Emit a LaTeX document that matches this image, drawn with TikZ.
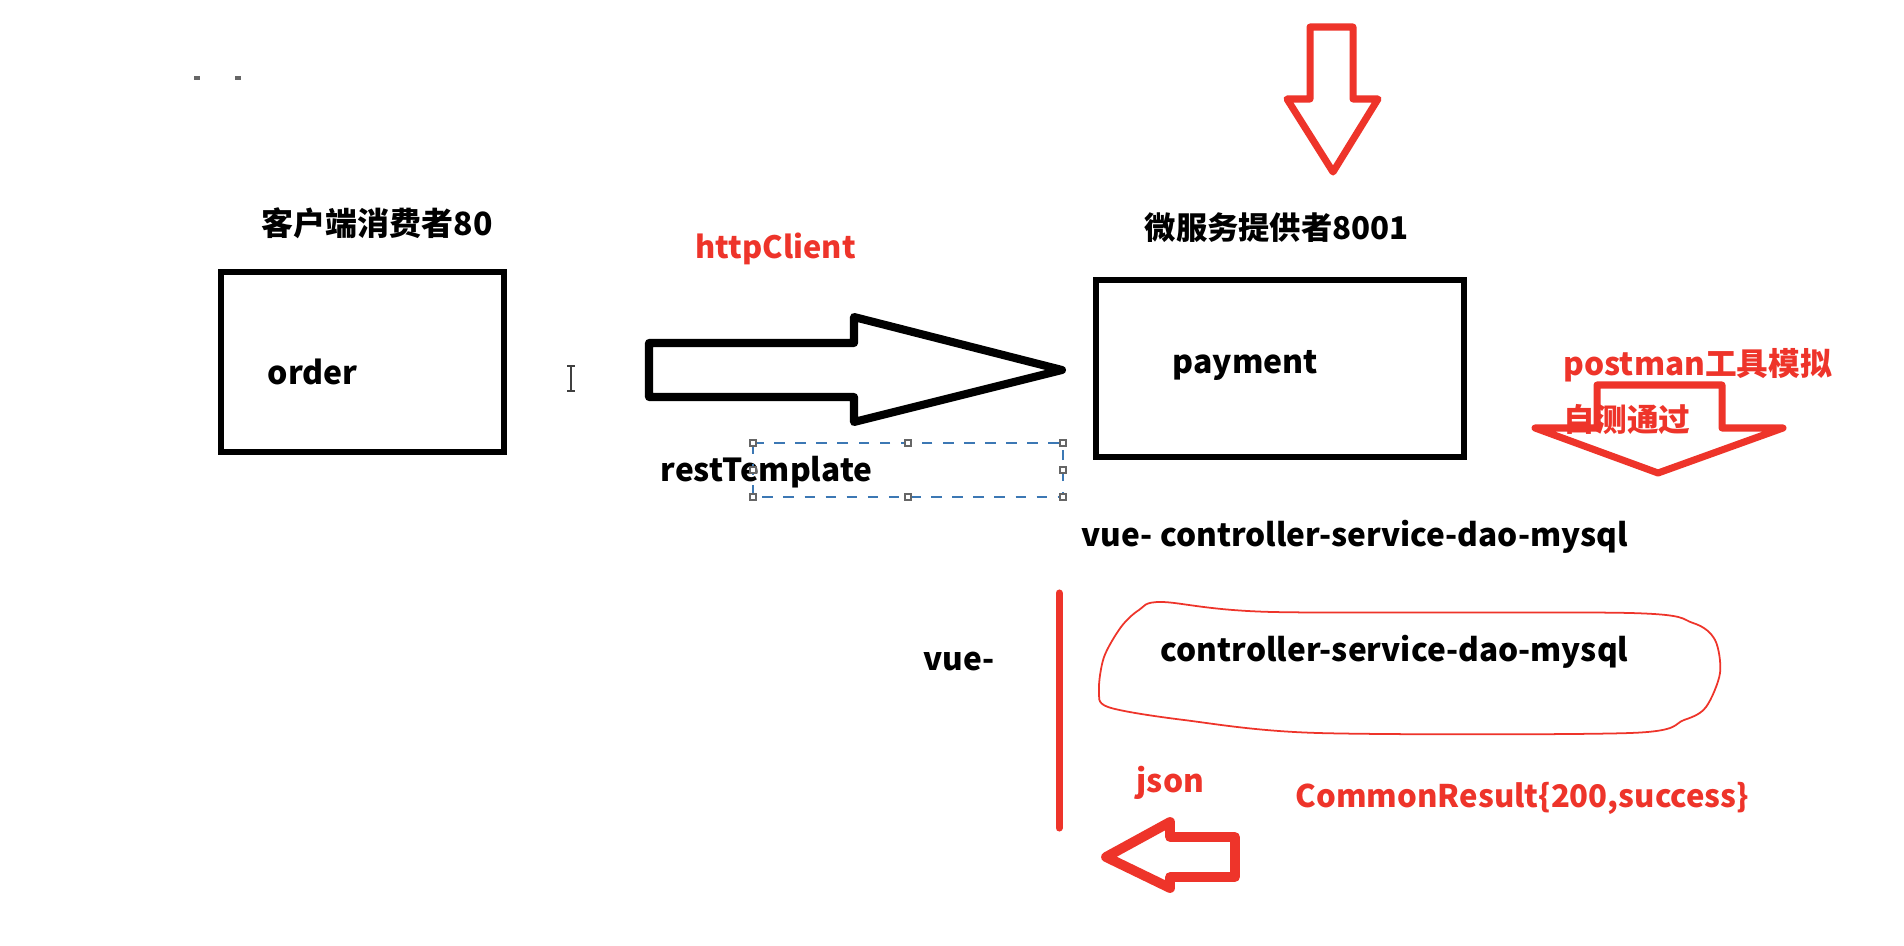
\documentclass[tikz,border=0pt]{standalone}
\usepackage{fontspec}
\setmainfont{Noto Sans CJK SC}
\definecolor{pen}{RGB}{238,52,42}
\definecolor{selblue}{RGB}{60,120,180}
\begin{document}
\begin{tikzpicture}[x=0.01cm,y=-0.01cm,
  lbl/.style={inner sep=0pt,anchor=west,font=\bfseries\fontsize{#1}{#1}\selectfont},
  lbl/.default=9,
  redlbl/.style={lbl=#1,text=pen},
  box/.style={draw=black,line width=1.8pt,inner sep=0pt},
  blockarrow/.style={line width=#1,line join=round},
  handle/.style={draw=gray!80!black,fill=white,line width=0.5pt,minimum size=0.06cm,inner sep=0pt}]
\useasboundingbox[fill=white] (0,0) rectangle (1904,946);

% stray dots top left
\draw[line width=1.2pt,black!60] (194,78) -- (200,78) (235,78) -- (241,78);

% consumer
\node[box,minimum width=2.83cm,minimum height=1.80cm] (orderbox) at (362.5,362) {};
\node[lbl=9.1] (ordertxt) at (267,372) {order};
\node[lbl=9.1] (title1) at (261,223) {客户端消费者80};

% provider
\node[box,minimum width=3.68cm,minimum height=1.77cm] (paybox) at (1280,368.5) {};
\node[lbl=9.1] (paytxt) at (1172,365) {payment};
\node[lbl=8.9] (title2) at (1144,228) {微服务提供者8001};

% top red down arrow
\draw[pen,blockarrow=2pt] (1310,27) -- (1353,27) -- (1353,99) -- (1378,99) -- (1333,172)
  -- (1287,99) -- (1310,99) -- cycle;

% black block arrow
\draw[black,blockarrow=2.3pt] (649,343) -- (854,343) -- (854,317) -- (1062,370)
  -- (854,422) -- (854,397) -- (649,397) -- cycle;
\node[redlbl=8.75] (http) at (695,249) {httpClient};

% text cursor
\draw[black!75,line width=0.6pt] (571,366) -- (571,391) (567,366) -- (575,366) (567,391) -- (575,391);

% restTemplate with selection box
\node[lbl=9] (rest) at (660,472) {restTemplate};
\draw[selblue,dashed,line width=0.6pt] (753,443) rectangle (1063,497);
\foreach \p in {(753,443),(908,443),(1063,443),(753,470),(1063,470),(753,497),(908,497),(1063,497)}
  \node[handle] at \p {};

% chain
\node[lbl=9] (chain) at (1081,537) {vue- controller-service-dao-mysql};
\node[lbl=9] (vue) at (923,661) {vue-};

% red vertical line
\coordinate (ltop) at (1059,593);
\coordinate (lbot) at (1059,828);
\draw[pen,line width=2pt,line cap=round] (ltop) -- (lbot);

% cloud
\draw[pen,line width=0.5pt] plot[smooth cycle,tension=0.5] coordinates {
  (1162,602) (1273,612) (1630,613) (1693,623) (1715,640) (1720,673) (1706,707)
  (1684,720) (1630,733) (1318,733) (1184,720) (1108,707) (1099,690) (1104,657)
  (1121,627) (1139,610)};
\node[lbl=9] (cloudtxt) at (1160,652) {controller-service-dao-mysql};

\node[redlbl=9] (json) at (1136,783) {json};
\node[redlbl=8.85] (common) at (1295,798) {CommonResult\{200,success\}};

% left red arrow
\draw[pen,blockarrow=2.8pt] (1235,837) -- (1170,837) -- (1170,822) -- (1106,857)
  -- (1170,888) -- (1170,877) -- (1235,877) -- cycle;

% postman
\node[redlbl=9] (postman) at (1563,365) {postman工具模拟};
\node[redlbl=9] (selftest) at (1563,420) {自测通过};
\draw[pen,blockarrow=2pt] (1597,385) -- (1722,385) -- (1722,428) -- (1783,428) -- (1658,473)
  -- (1535,428) -- (1597,428) -- cycle;
\end{tikzpicture}
\end{document}
